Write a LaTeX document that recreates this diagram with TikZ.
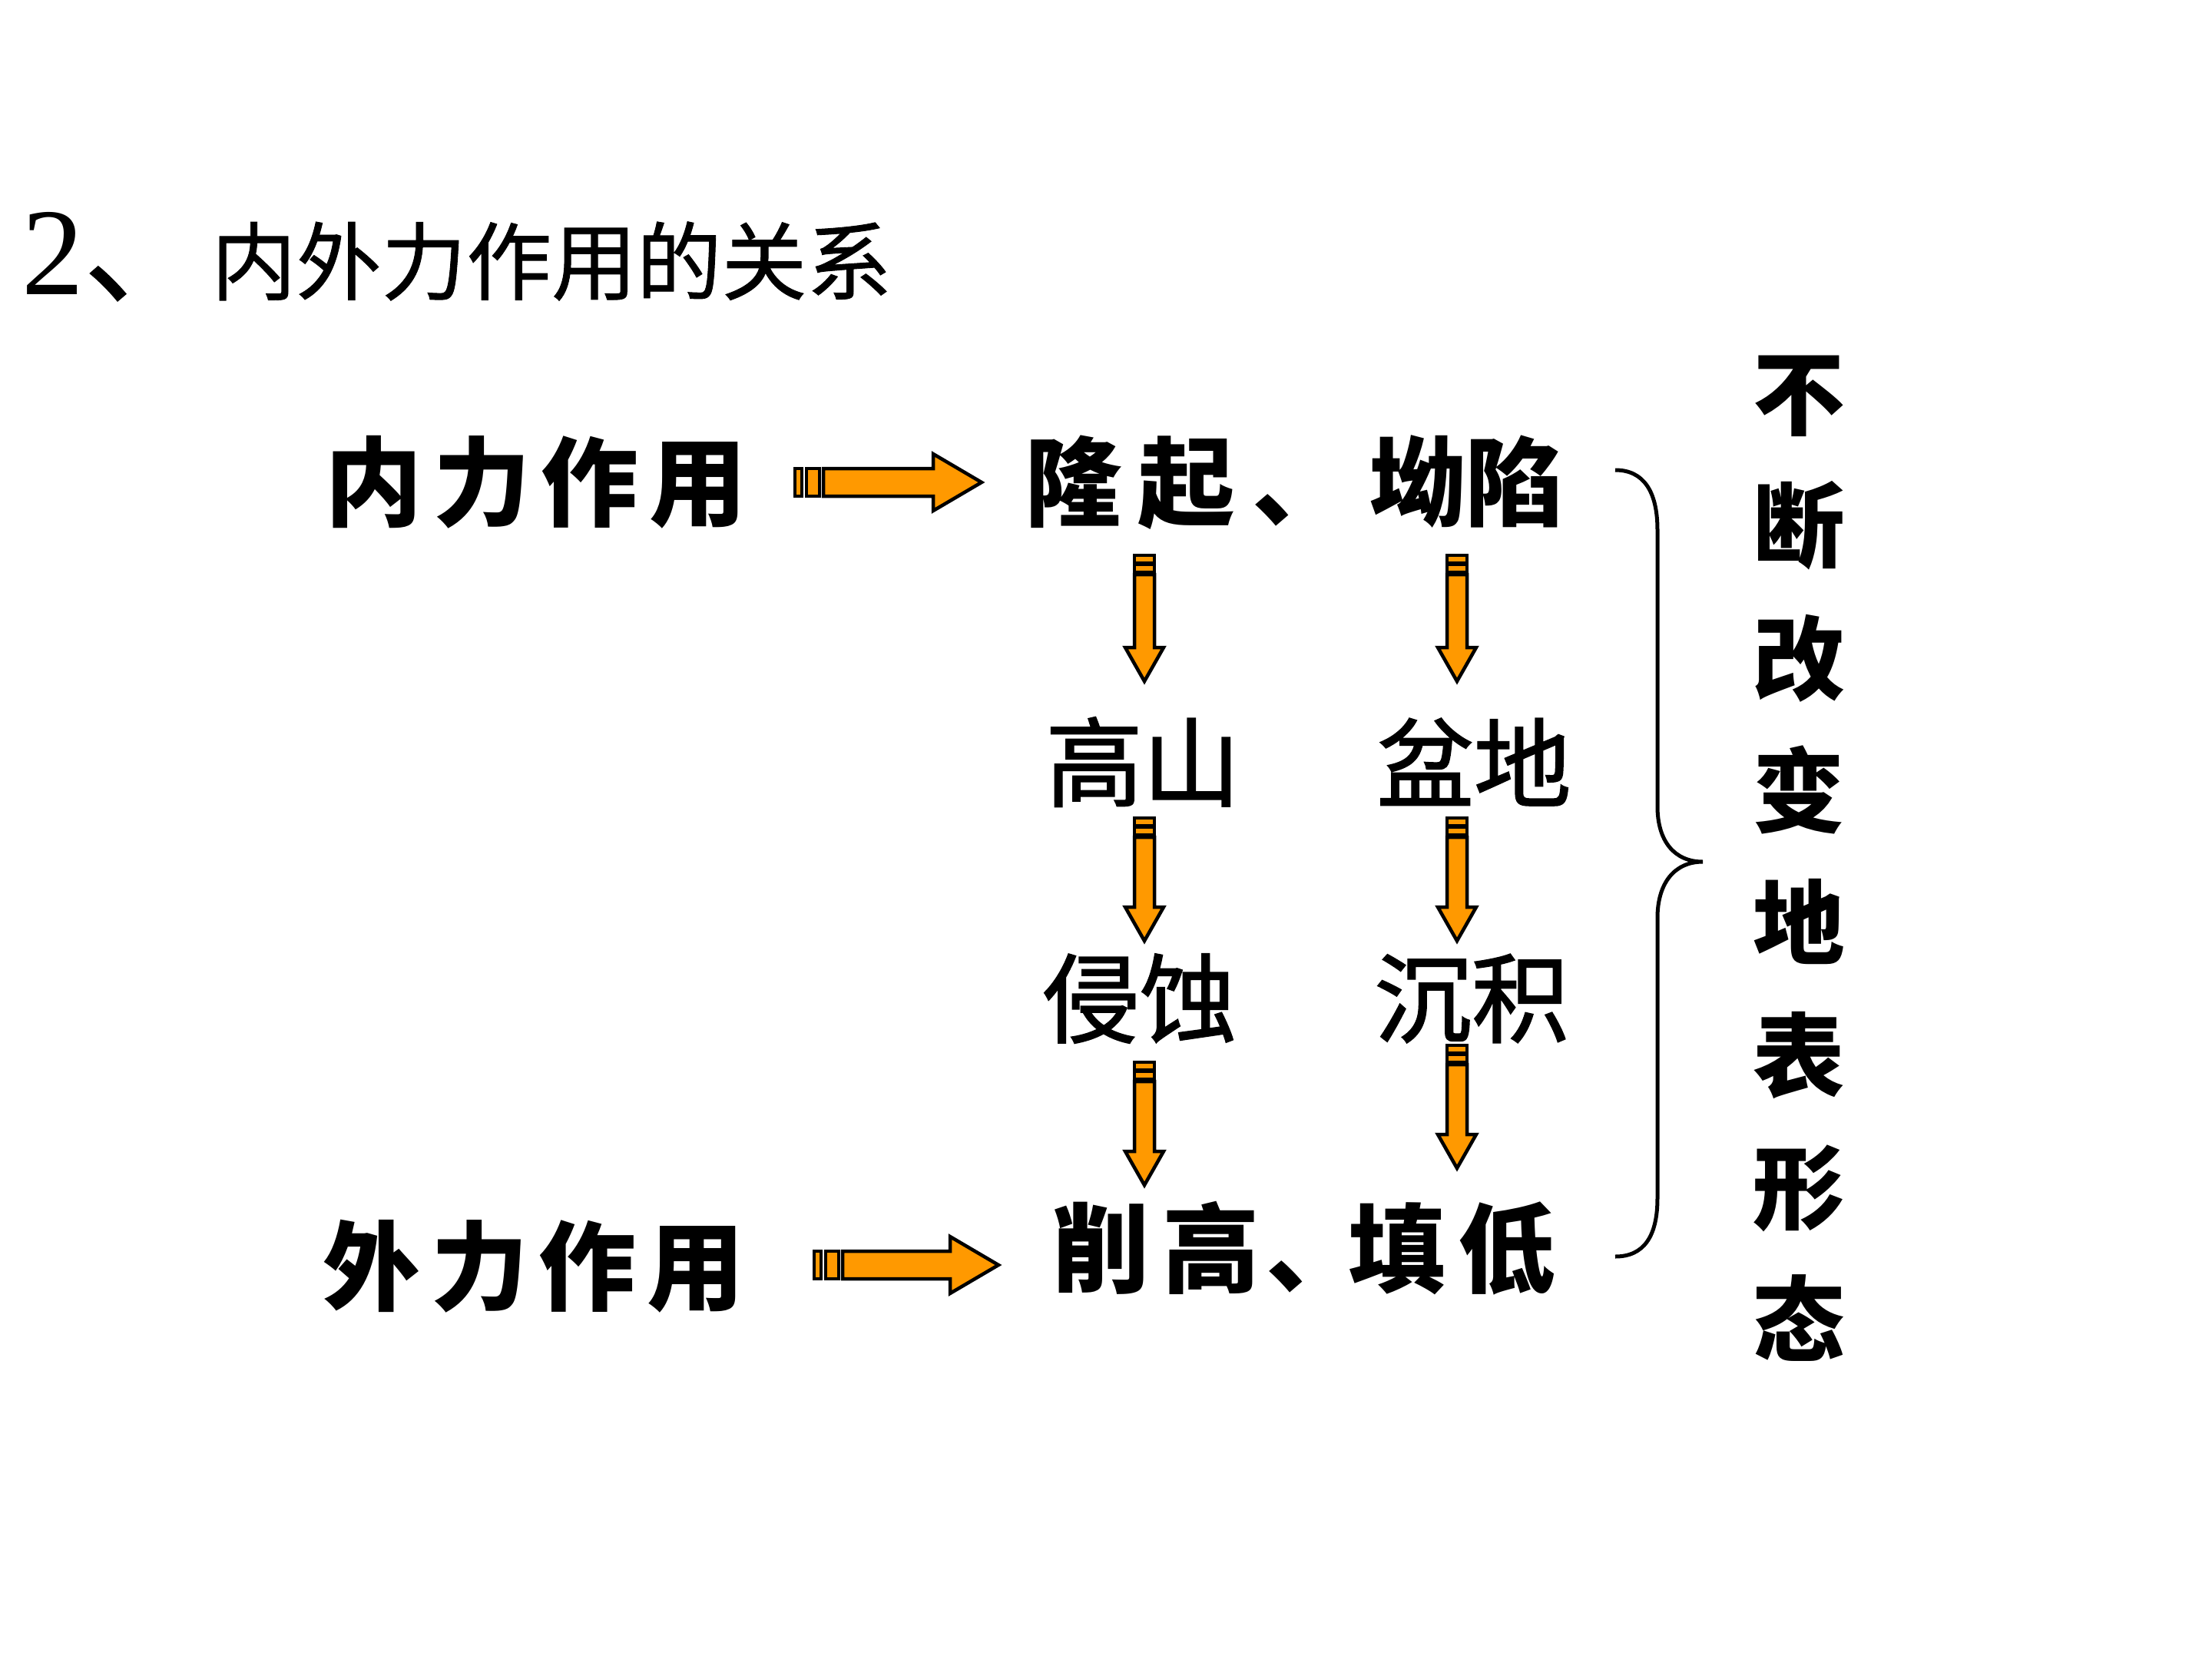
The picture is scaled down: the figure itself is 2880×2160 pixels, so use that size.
\documentclass[tikz,border=0pt]{standalone}
\usepackage{fontspec}
\setmainfont{Liberation Serif}
\newfontfamily\cjk{Noto Sans CJK SC}
\newfontfamily\cjkm{Noto Sans CJK SC}[FakeBold=1.5]
\newfontfamily\cjkt{Noto Sans CJK SC}[FakeBold=0.8]
\definecolor{arrorange}{RGB}{255,153,0}
\newcommand\gp{\hspace{0.14cm}}
% horizontal striped arrow: x start, y centre, length
\newcommand\hstriparrow[3]{%
  \draw[arr] ({#1},{#2-18}) rectangle ({#1+9},{#2+18});
  \draw[arr] ({#1+15},{#2-18}) rectangle ({#1+32},{#2+18});
  \draw[arr] ({#1+37},{#2-18}) -- ({#1+#3-63},{#2-18}) -- ({#1+#3-63},{#2-37}) -- ({#1+#3},{#2}) -- ({#1+#3-63},{#2+37}) -- ({#1+#3-63},{#2+18}) -- ({#1+37},{#2+18}) -- cycle;
}
% vertical striped arrow: x centre, y top, y bottom
\newcommand\vstriparrow[3]{%
  \draw[arr] ({#1-13},{#2}) rectangle ({#1+13},{#2+10});
  \draw[arr] ({#1-13},{#2+12}) rectangle ({#1+13},{#2+22});
  \draw[arr] ({#1-13},{#2+25}) -- ({#1-13},{#3-44}) -- ({#1-25},{#3-44}) -- ({#1},{#3}) -- ({#1+25},{#3-44}) -- ({#1+13},{#3-44}) -- ({#1+13},{#2+25}) -- cycle;
}
\tikzset{
  arr/.style={fill=arrorange, draw=black, line width=0.045cm, line join=miter},
  lbl/.style={font=\cjk\bfseries\fontsize{36}{40}\selectfont},
  sub/.style={font=\cjkm\fontsize{36}{40}\selectfont},
}
\begin{document}
\begin{tikzpicture}[x=0.01cm,y=-0.01cm, every node/.style={inner sep=0pt,outer sep=0pt}]
\useasboundingbox[fill=white] (0,0) rectangle (2880,2160);
% title
\node[anchor=base west, font=\fontsize{46}{50}\selectfont] (num) at (28,383) {2{\cjkt 、}};
\node[anchor=west, font=\cjkt\fontsize{31.5}{36}\selectfont] (title) at (275,340) {内外力作用的关系};
% labels
\node[lbl] (nei) at (698,628) {内\gp 力\gp 作\gp 用};
\node[lbl] (wai) at (695,1649) {外\gp 力\gp 作\gp 用};
\node[lbl] (long) at (1685,628) {隆\hspace{0.2cm}起\hspace{0.23cm}、\hspace{0.25cm}坳陷};
\node[lbl] (xue) at (1698,1625) {削\hspace{0.16cm}高\hspace{0.09cm}、\hspace{-0.2cm}填\hspace{0.17cm}低};
\node[sub] (gs) at (1488,992) {高山};
\node[sub] (pd) at (1919,992) {盆地};
\node[sub] (qs) at (1484,1300) {侵蚀};
\node[sub] (cj) at (1916,1300) {沉积};
% arrows
\hstriparrow{1035}{628}{243}
\hstriparrow{1060}{1647}{240}
\vstriparrow{1490}{723}{887}
\vstriparrow{1897}{723}{887}
\vstriparrow{1490}{1065}{1225}
\vstriparrow{1897}{1065}{1225}
\vstriparrow{1490}{1383}{1543}
\vstriparrow{1897}{1361}{1521}
% brace
\draw[line width=0.05cm] (2103,612) .. controls (2140,612) and (2158,640) .. (2158,690) -- (2158,1050) .. controls (2158,1095) and (2180,1122) .. (2217,1122) .. controls (2180,1122) and (2158,1150) .. (2158,1195) -- (2158,1560) .. controls (2158,1610) and (2140,1636) .. (2103,1636);
% vertical text
\node[font=\cjk\bfseries\fontsize{34}{49}\selectfont, align=center] (v) at (2342,1118) {不\\断\\改\\变\\地\\表\\形\\态};
\end{tikzpicture}
\end{document}
